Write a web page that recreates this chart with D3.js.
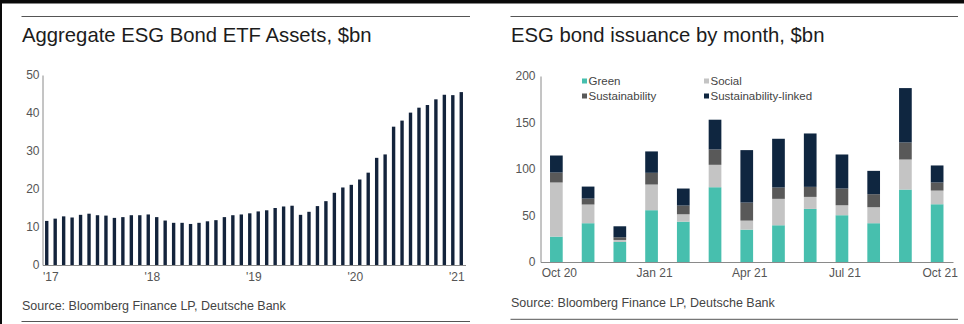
<!DOCTYPE html>
<html>
<head>
<meta charset="utf-8">
<script src="https://cdn.jsdelivr.net/npm/d3@7"></script>
<style>
  html, body { margin: 0; padding: 0; background: #fff; }
  svg { display: block; }
  text { font-family: "Liberation Sans", Arial, sans-serif; }
</style>
</head>
<body>
<svg id="chart" width="964" height="324"></svg>
<script>
// ---- Left chart data: Aggregate ESG Bond ETF Assets, $bn (monthly, Jan 2017 - Feb 2021)
const etfMonths = d3.range(50).map(i => new Date(2017, i, 1));
const etfAssets = [
  11.6, 12.2, 12.8, 12.5, 13.2, 13.5, 13.1, 13.0, 12.4, 12.6, 13.1, 13.1,
  13.3, 12.6, 11.7, 11.1, 11.1, 10.8, 11.1, 11.5, 11.8, 12.6, 13.1, 13.3,
  13.6, 14.1, 14.4, 15.0, 15.4, 15.6, 13.2, 14.0, 15.5, 16.8, 19.0, 20.4,
  21.1, 22.5, 24.3, 28.2, 29.1, 36.4, 38.0, 40.1, 41.4, 42.1, 43.6, 44.8,
  44.7, 45.5
];
const etfYTicks = [0, 10, 20, 30, 40, 50];
const etfXTickIdx = [0, 12, 24, 36, 48];
const etfXTickLabels = ["'17", "'18", "'19", "'20", "'21"];

// ---- Right chart data: ESG bond issuance by month, $bn
const issMonths = ["Oct 20", "Nov 20", "Dec 20", "Jan 21", "Feb 21", "Mar 21", "Apr 21",
                   "May 21", "Jun 21", "Jul 21", "Aug 21", "Sep 21", "Oct 21"];
const green          = [27.3, 41.7, 21.5, 55.7, 43.4, 80.4, 34.8, 39.5, 57.1, 50.3, 41.7, 77.9, 62.1];
const social         = [58.2, 20.1,  2.2, 27.6,  7.9, 24.1,  9.7, 28.4, 12.9, 10.7, 17.2, 32.3, 14.7];
const sustainability = [10.7,  6.4,  2.9, 12.6,  9.4, 16.5, 19.4, 12.2, 10.8, 18.0, 14.0, 18.3,  8.7];
const sustLinked     = [18.3, 12.9, 11.8, 23.0, 18.3, 32.0, 56.4, 52.4, 57.4, 36.6, 25.1, 58.5, 18.3];
const issYTicks = [0, 50, 100, 150, 200];
const issXTickLabels = ["Oct 20", "Jan 21", "Apr 21", "Jul 21", "Oct 21"];
const seriesNames = ["Green", "Social", "Sustainability", "Sustainability-linked"];
const seriesKeys = ["green", "social", "sustainability", "sustLinked"];
const seriesColors = ["#47bfae", "#c4c4c4", "#595959", "#0f2640"];

const svg = d3.select("#chart");

// frame: black band at top and left edge
svg.append("rect").attr("x", 0).attr("y", 0).attr("width", 964).attr("height", 3.5).attr("fill", "#0a0a0a");
svg.append("rect").attr("x", 0).attr("y", 0).attr("width", 2).attr("height", 324).attr("fill", "#0a0a0a");

const titleColor = "#1c1c1c";
const tickColor = "#555";
const ruleColor = "#555";

function panelChrome(x0, x1, topY, title, srcY, bottomY) {
  svg.append("line").attr("x1", x0).attr("x2", x1).attr("y1", topY).attr("y2", topY)
    .attr("stroke", ruleColor).attr("stroke-width", 1);
  svg.append("text").attr("x", x0 + 0.5).attr("y", 41.5).attr("font-size", 20.3)
    .attr("fill", titleColor).text(title);
  svg.append("text").attr("x", x0 + 0.5).attr("y", srcY).attr("font-size", 12.5)
    .attr("fill", "#444").text("Source: Bloomberg Finance LP, Deutsche Bank");
  svg.append("line").attr("x1", x0).attr("x2", x1).attr("y1", bottomY).attr("y2", bottomY)
    .attr("stroke", ruleColor).attr("stroke-width", 1);
}

panelChrome(21.5, 470, 16.5, "Aggregate ESG Bond ETF Assets, $bn", 310, 321.5);
panelChrome(510.5, 958, 16.5, "ESG bond issuance by month, $bn", 307.3, 319.3);

// ---------------- Left chart ----------------
const xL = d3.scaleBand().domain(etfMonths.map((d, i) => i)).range([42.5, 465.5]).paddingInner(0.6).paddingOuter(0.3);
const yL = d3.scaleLinear().domain([0, 50]).range([265, 75]);

const gL = svg.append("g");
gL.selectAll("rect.bar").data(etfAssets).join("rect")
  .attr("class", "bar")
  .attr("x", (d, i) => xL(i))
  .attr("width", xL.bandwidth())
  .attr("y", d => yL(d))
  .attr("height", d => yL(0) - yL(d))
  .attr("fill", "#13233b");

gL.append("g").attr("transform", "translate(42.5,0)")
  .call(d3.axisLeft(yL).tickValues(etfYTicks).tickSize(0).tickPadding(3).tickSizeOuter(0));
const xAxisL = gL.append("g").attr("transform", `translate(0,${yL(0)})`)
  .call(d3.axisBottom(xL).tickValues(etfXTickIdx).tickSize(0).tickPadding(7).tickSizeOuter(0)
    .tickFormat((d, i) => etfXTickLabels[i]));
xAxisL.selectAll(".tick text").attr("dx", 4);

// ---------------- Right chart ----------------
const xR = d3.scaleBand().domain(issMonths).range([540.5, 953]).paddingInner(0.6).paddingOuter(0.3);
const yR = d3.scaleLinear().domain([0, 200]).range([262, 76]);

const rows = issMonths.map((m, i) => ({
  month: m, green: green[i], social: social[i], sustainability: sustainability[i], sustLinked: sustLinked[i]
}));
const stacked = d3.stack().keys(seriesKeys)(rows);

const gR = svg.append("g");
gR.selectAll("g.series").data(stacked).join("g")
  .attr("class", "series")
  .attr("fill", (d, i) => seriesColors[i])
  .selectAll("rect").data(d => d).join("rect")
  .attr("x", d => xR(d.data.month))
  .attr("width", xR.bandwidth())
  .attr("y", d => yR(d[1]))
  .attr("height", d => yR(d[0]) - yR(d[1]));

gR.append("g").attr("transform", "translate(540.5,0)")
  .call(d3.axisLeft(yR).tickValues(issYTicks).tickSize(0).tickPadding(5).tickSizeOuter(0));
const xAxisR = gR.append("g").attr("transform", `translate(0,${yR(0)})`)
  .call(d3.axisBottom(xR).tickValues(issXTickLabels).tickSize(0).tickPadding(6).tickSizeOuter(0));
xAxisR.selectAll(".tick text").attr("dx", 3);

// axis styling
svg.selectAll(".tick text").attr("font-size", 12).attr("fill", tickColor)
  .style("font-family", "'Liberation Sans', Arial, sans-serif");
svg.selectAll(".domain").attr("stroke", "#8a8a8a").attr("stroke-width", 1);

// legend
const legPos = [[582, 85], [704, 85], [582, 100], [704, 100]];
const leg = gR.append("g");
seriesNames.forEach((name, i) => {
  const [lx, ly] = legPos[i];
  leg.append("rect").attr("x", lx).attr("y", ly - 6.5).attr("width", 5).attr("height", 5)
    .attr("fill", seriesColors[i]);
  leg.append("text").attr("x", lx + 6.5).attr("y", ly).attr("font-size", 11.5)
    .attr("fill", "#444").text(name);
});
</script>
</body>
</html>
